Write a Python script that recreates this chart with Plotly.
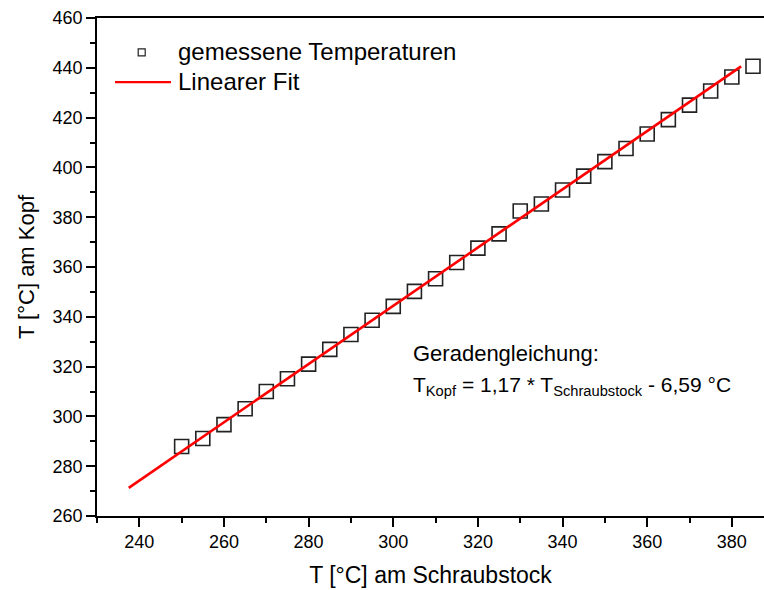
import plotly.graph_objects as go

# Data
t_schraubstock = [250, 255, 260, 265, 270, 275, 280, 285, 290, 295, 300, 305, 310, 315,
                  320, 325, 330, 335, 340, 345, 350, 355, 360, 365, 370, 375, 380, 385]
t_kopf = [287.9, 291.1, 296.7, 303.1, 310.0, 315.1, 321.0, 326.9, 332.9, 338.6, 344.2,
          350.2, 355.3, 361.8, 367.6, 373.3, 382.5, 385.3, 390.9, 396.5, 402.3, 407.6,
          413.4, 419.2, 425.0, 430.7, 436.3, 440.6]
fit_x = [237.5, 382.2]
fit_y = [271.3, 440.6]

x_ticks = [240, 260, 280, 300, 320, 340, 360, 380]
y_ticks = [260, 280, 300, 320, 340, 360, 380, 400, 420, 440, 460]

W, H = 764, 590
L, R, T, B = 97, 0, 17.5, 74
PW, PH = W - L - R, H - T - B

def px(x):
    return (x - L) / PW

def py(y):
    return (H - B - y) / PH

FONT = "Liberation Sans, Arial, sans-serif"

fig = go.Figure()
fig.add_trace(go.Scatter(
    x=t_schraubstock, y=t_kopf, mode="markers", name="gemessene Temperaturen",
    marker=dict(symbol="square-open", size=14, color="#222222", line=dict(width=1.6, color="#222222")),
    showlegend=False,
))
fig.add_trace(go.Scatter(
    x=fit_x, y=fit_y, mode="lines", name="Linearer Fit",
    line=dict(color="#ff0000", width=2.6), showlegend=False,
))

axis_common = dict(
    showgrid=False, zeroline=False, showline=True, linecolor="black", linewidth=1.6,
    ticks="outside", ticklen=9, tickwidth=1.5, tickcolor="black",
    tickfont=dict(family=FONT, size=18, color="black"),
)
fig.update_xaxes(
    range=[230, 387.6], tickvals=x_ticks, mirror=True,
    minor=dict(ticks="outside", ticklen=5, tickwidth=1.5, tickcolor="black", dtick=10, tick0=230),
    title=dict(text="T [°C] am Schraubstock", font=dict(family=FONT, size=23, color="black"), standoff=15),
    **axis_common,
)
fig.update_yaxes(
    range=[260, 460], tickvals=y_ticks, mirror=False,
    minor=dict(ticks="outside", ticklen=5, tickwidth=1.5, tickcolor="black", dtick=10, tick0=260),
    title=dict(text="T [°C] am Kopf", font=dict(family=FONT, size=22, color="black"), standoff=12),
    **axis_common,
)

shapes = []
# manual legend: square symbol and red line sample
sq = 3.5
shapes.append(dict(type="rect", xref="paper", yref="paper",
                   x0=px(141.7 - sq), x1=px(141.7 + sq), y0=py(52 + sq), y1=py(52 - sq),
                   line=dict(color="#222222", width=1.2), fillcolor="rgba(0,0,0,0)"))
shapes.append(dict(type="line", xref="paper", yref="paper",
                   x0=px(115), x1=px(171), y0=py(81.7), y1=py(81.7),
                   line=dict(color="#ff0000", width=2.4)))

annotations = [
    dict(text="gemessene Temperaturen", x=px(176), y=py(51.5), xref="paper", yref="paper",
         xanchor="left", yanchor="middle", showarrow=False,
         font=dict(family=FONT, size=24, color="black")),
    dict(text="Linearer Fit", x=px(176), y=py(81.5), xref="paper", yref="paper",
         xanchor="left", yanchor="middle", showarrow=False,
         font=dict(family=FONT, size=24, color="black")),
    dict(text="Geradengleichung:", x=px(411), y=py(353), xref="paper", yref="paper",
         xanchor="left", yanchor="middle", showarrow=False,
         font=dict(family=FONT, size=22, color="black")),
    dict(text="T<sub>Kopf</sub> = 1,17 * T<sub>Schraubstock</sub> - 6,59 °C", x=px(411), y=py(386),
         xref="paper", yref="paper", xanchor="left", yanchor="middle", showarrow=False,
         font=dict(family=FONT, size=21, color="black")),
]

fig.update_layout(
    width=W, height=H, margin=dict(l=L, r=R, t=T, b=B, pad=0),
    plot_bgcolor="white", paper_bgcolor="white",
    shapes=shapes, annotations=annotations, showlegend=False,
)

fig.write_html("out.html")
